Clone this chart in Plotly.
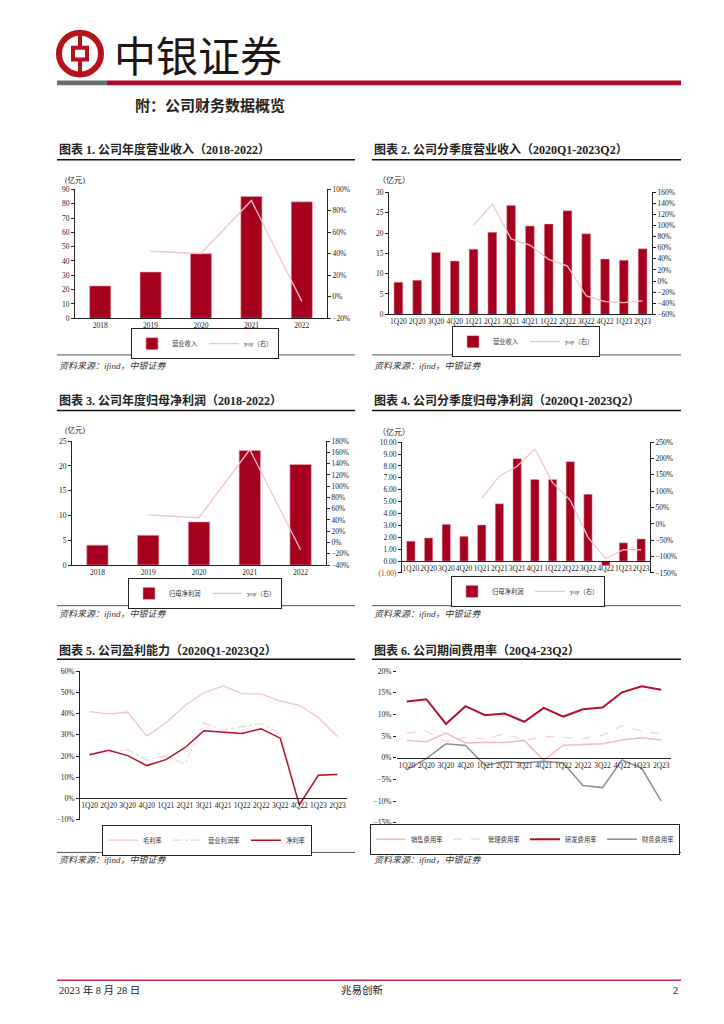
import plotly.graph_objects as go

# page is shown with the browser's default 8px body margin; figure sized to fit exactly
OFF = 8
W, H = 724 - 2 * OFF, 1024 - 2 * OFF

# ---------------- data ----------------
years = ["2018", "2019", "2020", "2021", "2022"]
rev_annual = [22.6, 32.3, 45.1, 85.1, 81.3]
rev_annual_yoy = [None, 42.4, 40.3, 89.7, -4.3]

quarters = ["1Q20", "2Q20", "3Q20", "4Q20", "1Q21", "2Q21", "3Q21", "4Q21",
            "1Q22", "2Q22", "3Q22", "4Q22", "1Q23", "2Q23"]
rev_q = [7.9, 8.4, 15.2, 13.1, 16.0, 20.2, 26.8, 21.7, 22.2, 25.5, 19.8, 13.6, 13.3, 16.1]
rev_q_yoy = [None, None, None, None, 101, 139, 76, 65, 39, 27, -27, -37, -39, -36]

np_annual = [4.0, 6.0, 8.7, 23.1, 20.3]
np_annual_yoy = [None, 49, 44, 165, -13]

np_q = [1.67, 1.94, 3.08, 2.08, 3.03, 4.81, 8.61, 6.86, 6.86, 8.36, 5.61, -0.36, 1.53, 1.86]
np_q_yoy = [None, None, None, None, 79, 146, 176, 229, 126, 72, -41, -106, -79, -79]
np_q_tickvals = [-1, 0, 1, 2, 3, 4, 5, 6, 7, 8, 9, 10]
np_q_ticktext = ["<span style='color:#E0201B'>(1.00)</span>", "0.00", "1.00", "2.00", "3.00",
                 "4.00", "5.00", "6.00", "7.00", "8.00", "9.00", "10.00"]

gross_margin = [40.9, 39.8, 40.6, 29.4, 35.5, 43.8, 49.8, 53.0, 49.4, 49.2, 45.9, 43.9, 38.1, 29.2]
op_margin = [21.0, 21.7, 23.0, 18.1, 20.2, 16.3, 35.5, 32.2, 33.8, 35.3, 30.6, -2.5, 11.0, 11.5]
net_margin = [20.6, 22.7, 20.2, 15.5, 18.3, 23.9, 31.9, 31.4, 30.6, 32.8, 28.4, -3.0, 10.9, 11.3]

sell_rate = [4.0, 3.7, 5.7, 3.4, 3.5, 3.5, 4.0, -0.6, 2.9, 3.1, 3.2, 4.1, 4.6, 4.1]
admin_rate = [5.7, 6.1, 3.7, 4.7, 4.4, 5.5, 4.0, 4.9, 4.7, 4.4, 5.2, 7.4, 6.1, 5.5]
rd_rate = [13.0, 13.5, 7.8, 11.9, 9.8, 10.2, 8.3, 11.5, 9.5, 11.2, 11.6, 15.1, 16.5, 15.7]
fin_rate = [-2.8, -0.2, 3.2, 2.8, -1.8, -0.9, -1.2, -0.8, -1.2, -6.4, -6.9, -0.5, -2.4, -10.0]

# ---------------- style ----------------
FONT = "Liberation Serif, Noto Sans CJK SC, serif"
CJK = "Noto Sans CJK SC, sans-serif"
BAR = "#A6001F"
PINK = "#F5C3CD"
PINK2 = "#F8CFD7"
DARKRED = "#B3102B"
GRAY = "#8E8E96"
TICK = dict(size=7.5, color="#222", family=FONT)
LEGF = 6.3


def X(px):
    return (px - OFF) / W


def Y(py):
    return 1 - (py - OFF) / H


def ydom(top, bot):
    return [Y(bot), Y(top)]


def xdom(l, r):
    return [X(l), X(r)]


fig = go.Figure()

# Chart 1
fig.add_trace(go.Bar(x=years, y=rev_annual, name="营业收入", marker_color=BAR, width=0.42,
                     marker_line=dict(color="#E9A7B3", width=0.6), legendwidth=27,
                     xaxis="x", yaxis="y", legend="legend"))
fig.add_trace(go.Scatter(x=years, y=rev_annual_yoy, name="yoy（右）", mode="lines", legendwidth=29,
                         line=dict(color=PINK, width=1.3), xaxis="x", yaxis="y2", legend="legend"))
# Chart 2
fig.add_trace(go.Bar(x=quarters, y=rev_q, name="营业收入", marker_color=BAR, width=0.47,
                     marker_line=dict(color="#E9A7B3", width=0.5), legendwidth=27,
                     xaxis="x2", yaxis="y3", legend="legend2"))
fig.add_trace(go.Scatter(x=quarters, y=rev_q_yoy, name="yoy（右）", mode="lines", legendwidth=29,
                         line=dict(color=PINK, width=1.3), xaxis="x2", yaxis="y4", legend="legend2"))
# Chart 3
fig.add_trace(go.Bar(x=years, y=np_annual, name="归母净利润", marker_color=BAR, width=0.42,
                     marker_line=dict(color="#E9A7B3", width=0.6), legendwidth=33,
                     xaxis="x3", yaxis="y5", legend="legend3"))
fig.add_trace(go.Scatter(x=years, y=np_annual_yoy, name="yoy（右）", mode="lines", legendwidth=29,
                         line=dict(color=PINK, width=1.3), xaxis="x3", yaxis="y6", legend="legend3"))
# Chart 4
fig.add_trace(go.Bar(x=quarters, y=np_q, name="归母净利润", marker_color=BAR, width=0.47,
                     marker_line=dict(color="#E9A7B3", width=0.5), legendwidth=33,
                     xaxis="x4", yaxis="y7", legend="legend4"))
fig.add_trace(go.Scatter(x=quarters, y=np_q_yoy, name="yoy（右）", mode="lines", legendwidth=29,
                         line=dict(color=PINK, width=1.3), xaxis="x4", yaxis="y8", legend="legend4"))
# Chart 5
fig.add_trace(go.Scatter(x=quarters, y=gross_margin, name="毛利率", mode="lines", legendwidth=20,
                         line=dict(color=PINK, width=1.3), xaxis="x5", yaxis="y9", legend="legend5"))
fig.add_trace(go.Scatter(x=quarters, y=op_margin, name="营业利润率", mode="lines", legendwidth=33,
                         line=dict(color=PINK2, width=1.2, dash="dashdot"), xaxis="x5", yaxis="y9",
                         legend="legend5"))
fig.add_trace(go.Scatter(x=quarters, y=net_margin, name="净利率", mode="lines", legendwidth=20,
                         line=dict(color=DARKRED, width=1.5), xaxis="x5", yaxis="y9", legend="legend5"))
# Chart 6
fig.add_trace(go.Scatter(x=quarters, y=sell_rate, name="销售费用率", mode="lines", legendwidth=32,
                         line=dict(color="#F2B9C4", width=1.5), xaxis="x6", yaxis="y10", legend="legend6"))
fig.add_trace(go.Scatter(x=quarters, y=admin_rate, name="管理费用率", mode="lines", legendwidth=32,
                         line=dict(color=PINK2, width=1.3, dash="dash"), xaxis="x6", yaxis="y10",
                         legend="legend6"))
fig.add_trace(go.Scatter(x=quarters, y=rd_rate, name="研发费用率", mode="lines", legendwidth=32,
                         line=dict(color=DARKRED, width=2), xaxis="x6", yaxis="y10", legend="legend6"))
fig.add_trace(go.Scatter(x=quarters, y=fin_rate, name="财务费用率", mode="lines", legendwidth=32,
                         line=dict(color=GRAY, width=1.5), xaxis="x6", yaxis="y10", legend="legend6"))

AX = dict(showgrid=False, zeroline=False, linecolor="#222", linewidth=0.8, tickfont=TICK,
          ticks="outside", ticklen=3, tickcolor="#222", tickwidth=0.8)
XA = dict(showgrid=False, zeroline=False, linecolor="#222", linewidth=0.8, tickfont=TICK,
          ticks="", tickangle=0, type="category")


def pos_zero(top, bot, rmin, rmax):
    frac = (0 - rmin) / (rmax - rmin)
    py = bot - frac * (bot - top)
    return Y(py)


lay = dict(
    width=W, height=H, autosize=False, margin=dict(l=0, r=0, t=0, b=0),
    paper_bgcolor="white", plot_bgcolor="rgba(0,0,0,0)", showlegend=True,
    font=dict(family=FONT, color="#222"),
    # chart 1
    xaxis=dict(XA, domain=xdom(75, 327), anchor="y", showline=True, range=[-0.5, 4.5]),
    yaxis=dict(AX, domain=ydom(187, 317), anchor="x", range=[0, 90], dtick=10, showline=True),
    yaxis2=dict(AX, domain=ydom(187, 317), anchor="x", overlaying="y", side="right",
                range=[-20, 100], dtick=20, ticksuffix="%", showline=True),
    # chart 2
    xaxis2=dict(XA, domain=xdom(389, 652), anchor="y3", showline=True, range=[-0.5, 13.5]),
    yaxis3=dict(AX, domain=ydom(190, 313), anchor="x2", range=[0, 30], dtick=5, showline=True),
    yaxis4=dict(AX, domain=ydom(190, 313), anchor="x2", overlaying="y3", side="right",
                range=[-60, 160], dtick=20, ticksuffix="%", showline=True),
    # chart 3
    xaxis3=dict(XA, domain=xdom(72, 326), anchor="y5", showline=True, range=[-0.5, 4.5]),
    yaxis5=dict(AX, domain=ydom(441, 566), anchor="x3", range=[0, 25], dtick=5, showline=True),
    yaxis6=dict(AX, domain=ydom(441, 566), anchor="x3", overlaying="y5", side="right",
                range=[-40, 180], dtick=20, ticksuffix="%", showline=True),
    # chart 4
    xaxis4=dict(XA, domain=xdom(402, 650), anchor="free", position=pos_zero(442, 574, -1, 10),
                showline=True, range=[-0.5, 13.5]),
    yaxis7=dict(AX, domain=ydom(442, 574), anchor="x4", range=[-1, 10], tickvals=np_q_tickvals,
                ticktext=np_q_ticktext, showline=True),
    yaxis8=dict(AX, domain=ydom(442, 574), anchor="x4", overlaying="y7", side="right",
                range=[-150, 250], dtick=50, ticksuffix="%", showline=True),
    # chart 5
    xaxis5=dict(XA, domain=xdom(80, 347), anchor="free", position=pos_zero(673, 823, -10, 60),
                showline=True, range=[-0.5, 13.5]),
    yaxis9=dict(AX, domain=ydom(673, 823), anchor="x5", range=[-10, 60], dtick=10,
                ticksuffix="%", showline=True),
    # chart 6
    xaxis6=dict(XA, domain=xdom(397, 671), anchor="free", position=pos_zero(673, 826, -15, 20),
                showline=True, range=[-0.5, 13.5]),
    yaxis10=dict(AX, domain=ydom(673, 826), anchor="x6", range=[-15, 20], dtick=5,
                 ticksuffix="%", showline=False),
)


def legend_at(xc, ytop):
    return dict(x=X(xc), y=Y(ytop), xanchor="center", yanchor="top", orientation="h",
                bordercolor="#222", borderwidth=1, bgcolor="white",
                font=dict(size=LEGF, family=FONT, color="#333"), itemwidth=30,
                tracegroupgap=0, entrywidthmode="pixels")


lay["legend"] = legend_at(205, 327)
lay["legend2"] = legend_at(526, 325)
lay["legend3"] = legend_at(205, 579)
lay["legend4"] = legend_at(528, 577)
lay["legend5"] = legend_at(207, 828)
lay["legend6"] = legend_at(525, 827)
fig.update_layout(**lay)

shapes = []
ann = []


def hline(x0, x1, y, color, width):
    shapes.append(dict(type="line", xref="paper", yref="paper", x0=X(x0), x1=X(x1),
                       y0=Y(y), y1=Y(y), line=dict(color=color, width=width)))


def text(x, y, s, size, xanchor="left", color="#222", family=FONT, yanchor="middle"):
    ann.append(dict(x=X(x), y=Y(y), xref="paper", yref="paper", text=s, showarrow=False,
                    xanchor=xanchor, yanchor=yanchor, font=dict(size=size, color=color, family=family)))


# header logo
RED = "#B5121B"
shapes.append(dict(type="circle", xref="paper", yref="paper", x0=X(59), x1=X(101), y0=Y(29), y1=Y(71),
                   line=dict(color=RED, width=6), fillcolor="white"))
shapes.append(dict(type="rect", xref="paper", yref="paper", x0=X(73), x1=X(87), y0=Y(44), y1=Y(56),
                   line=dict(color=RED, width=4), fillcolor="white"))
shapes.append(dict(type="line", xref="paper", yref="paper", x0=X(80), x1=X(80), y0=Y(28), y1=Y(44),
                   line=dict(color=RED, width=4)))
shapes.append(dict(type="line", xref="paper", yref="paper", x0=X(80), x1=X(80), y0=Y(56), y1=Y(72),
                   line=dict(color=RED, width=4)))
text(112, 50, "中银证券", 42, family=CJK, color="#1E1412")
# header bar
shapes.append(dict(type="rect", xref="paper", yref="paper", x0=X(57), x1=X(107), y0=Y(82), y1=Y(77),
                   line=dict(width=0), fillcolor="#6E6E6E"))
shapes.append(dict(type="rect", xref="paper", yref="paper", x0=X(107), x1=X(681), y0=Y(82), y1=Y(77),
                   line=dict(width=0), fillcolor="#AF0B2A"))
text(133, 101, "<b>附：公司财务数据概览</b>", 15, family=CJK)

# panels
titles = [
    (57, 147, "图表 1. 公司年度营业收入（2018-2022）"),
    (372, 147, "图表 2. 公司分季度营业收入（2020Q1-2023Q2）"),
    (57, 400, "图表 3. 公司年度归母净利润（2018-2022）"),
    (372, 400, "图表 4. 公司分季度归母净利润（2020Q1-2023Q2）"),
    (57, 652, "图表 5. 公司盈利能力（2020Q1-2023Q2）"),
    (372, 652, "图表 6. 公司期间费用率（20Q4-23Q2）"),
]
for x, y, s in titles:
    text(x, y, "<b>" + s + "</b>", 12)

for (l, r) in [(57, 355), (372, 681)]:
    hline(l, r, 157, "#111", 1.5)
    hline(l, r, 410, "#111", 1.5)
    hline(l, r, 661, "#111", 1.5)
    hline(l, r, 354, "#555", 1)
    hline(l, r, 607, "#555", 1)
    hline(l, r, 856, "#555", 1)
    for yy in (365, 615, 864):
        text(l, yy, "<i>资料来源：ifind，中银证券</i>", 9, color="#333")

# unit labels
text(63, 178, "(亿元)", 7.5)
text(376, 178, "（亿元）", 8)
text(63, 430, "(亿元)", 7.5)
text(376, 432, "（亿元）", 8)

# footer
hline(57, 681, 985, "#C0304A", 1.5)
text(57, 995, "2023 年 8 月 28 日", 10.5)
text(362, 995, "兆易创新", 10.5, xanchor="center")
text(680, 995, "2", 10.5, xanchor="right")

fig.update_layout(shapes=shapes, annotations=ann)
fig.write_html("out.html")
